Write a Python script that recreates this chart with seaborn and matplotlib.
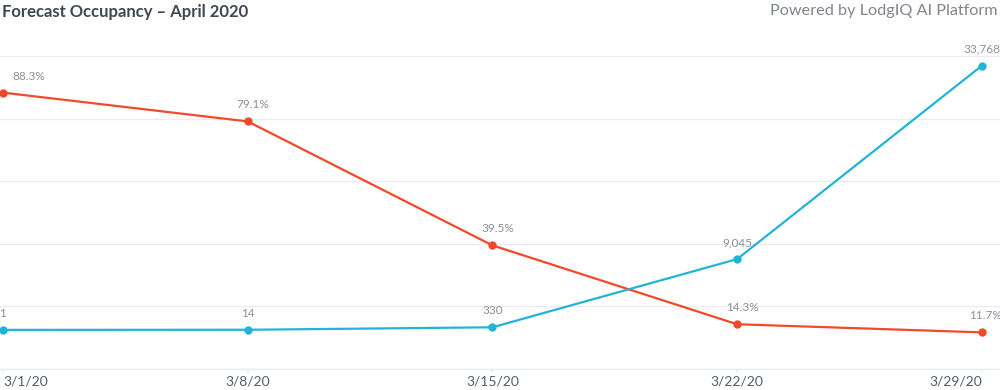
import matplotlib
matplotlib.use("Agg")
import matplotlib.pyplot as plt
import seaborn as sns
import pandas as pd

dates = ["3/1/20", "3/8/20", "3/15/20", "3/22/20", "3/29/20"]
occupancy = [88.3, 79.1, 39.5, 14.3, 11.7]
cases = [1, 14, 330, 9045, 33768]

sns.set_theme(style="white")
plt.rcParams['font.family'] = ['Lato', 'DejaVu Sans']

RED = "#f2492a"
BLUE = "#22b4d8"
LABEL = "#8a9098"

df = pd.DataFrame({"x": range(len(dates)), "date": dates,
                   "occ": occupancy, "cases": cases})

fig = plt.figure(figsize=(10, 3.9), dpi=100)
ax = fig.add_axes([0.0, 21/390, 1.0, (369-56)/390])
ax2 = ax.twinx()

sns.lineplot(data=df, x="x", y="occ", ax=ax, color=RED, linewidth=1.6,
             marker="o", markersize=6, markeredgewidth=0, clip_on=False)
sns.lineplot(data=df, x="x", y="cases", ax=ax2, color=BLUE, linewidth=1.6,
             marker="o", markersize=6, markeredgewidth=0, clip_on=False)

ax.set_xlim(-0.012, 4.074)
ax.set_ylim(0, 100)
ax2.set_ylim(-5000, 35000)

ax.set_yticks([0, 20, 40, 60, 80, 100])
ax.yaxis.grid(True, color="#ececec", linewidth=0.9)
ax.set_axisbelow(True)
ax.tick_params(axis="y", left=False, labelleft=False)
ax2.tick_params(axis="y", right=False, labelright=False)
ax2.set_yticks([])

for a in (ax, ax2):
    for s in a.spines.values():
        s.set_visible(False)
    a.set_xlabel("")
    a.set_ylabel("")
ax.spines["bottom"].set_visible(True)
ax.spines["bottom"].set_color("#e6edf1")
ax.spines["bottom"].set_linewidth(1.0)

ax.set_xticks(range(len(dates)))
ax.set_xticklabels(dates, color="#555d66", fontsize=10)
ax.tick_params(axis="x", bottom=True, length=3, color="#e6edf1", pad=2)
lbls = ax.get_xticklabels()
lbls[0].set_ha("left")
lbls[-1].set_ha("right")

for i, v in enumerate(occupancy):
    ha = "center"
    dx = 4
    if i == 0:
        ha, dx = "left", 7
    elif i == len(occupancy) - 1:
        ha, dx = "right", 14
    ax.annotate(f"{v:.1f}%", (i, v), xytext=(dx, 8), textcoords="offset points",
                ha=ha, va="bottom", color=LABEL, fontsize=8.5, annotation_clip=False)

for i, v in enumerate(cases):
    ha = "center"
    dx = 0
    if i == 0:
        ha, dx = "left", -3
    ax2.annotate(f"{v:,}", (i, v), xytext=(dx, 8), textcoords="offset points",
                 ha=ha, va="bottom", color=LABEL, fontsize=8.5, annotation_clip=False)

fig.text(0.002, 0.99, "Forecast Occupancy \u2013 April 2020", ha="left", va="top",
         fontsize=12, fontweight="bold", color="#3f4852")
fig.text(0.997, 0.99, "Powered by LodgIQ AI Platform", ha="right", va="top",
         fontsize=11.7, color="#80868d")

fig.savefig("out.png", dpi=100)
